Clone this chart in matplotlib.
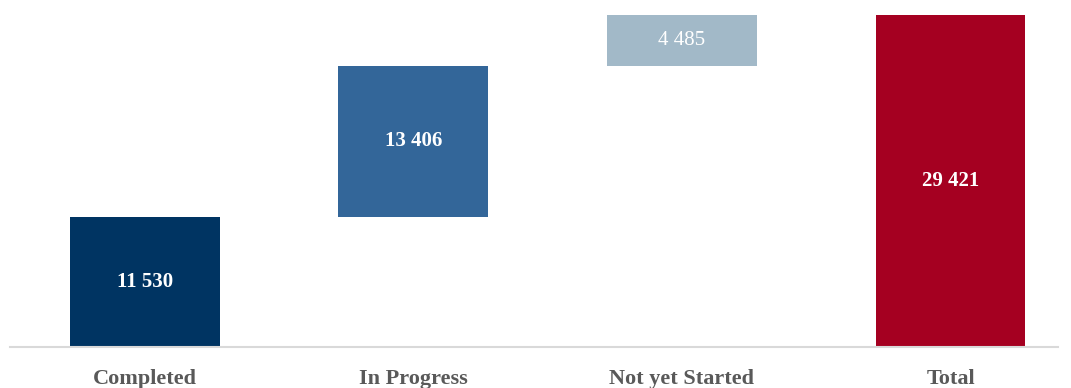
import matplotlib
matplotlib.use('Agg')
import matplotlib.pyplot as plt

categories = ['Completed', 'In Progress', 'Not yet Started', 'Total']
steps = [11530, 13406, 4485]
total = 29421
colors = ['#003462', '#336699', '#A2B9C8', '#A50021']

bottoms = [0, steps[0], steps[0] + steps[1], 0]
heights = steps + [total]
weights = ['bold', 'bold', 'normal', 'bold']

plt.rcParams['font.family'] = ['Liberation Serif', 'DejaVu Serif']

fig = plt.figure(figsize=(10.71, 3.88), dpi=100)
ax = fig.add_axes([0.0093, 0.1057, 0.9785, 0.8557])

x = range(len(categories))
bars = ax.bar(x, heights, bottom=bottoms, width=0.558, color=colors)

for bar, h, w in zip(bars, heights, weights):
    ax.text(bar.get_x() + bar.get_width() / 2, bar.get_y() + h / 2,
            f'{h:,}'.replace(',', ' '), ha='center', va='center',
            color='white', fontsize=15, fontweight=w)

ax.set_xlim(-0.502, 3.40)
ax.set_ylim(0, total)
ax.set_xticks(list(x))
ax.set_xticklabels(categories, fontsize=16, fontweight='bold', color='#595959')
ax.tick_params(axis='x', length=0, pad=15.5)
ax.set_yticks([])
for s in ['top', 'right', 'left']:
    ax.spines[s].set_visible(False)
ax.spines['bottom'].set_color('#D9D9D9')
ax.spines['bottom'].set_linewidth(1.5)

fig.savefig('out.png', dpi=100, facecolor='white')
